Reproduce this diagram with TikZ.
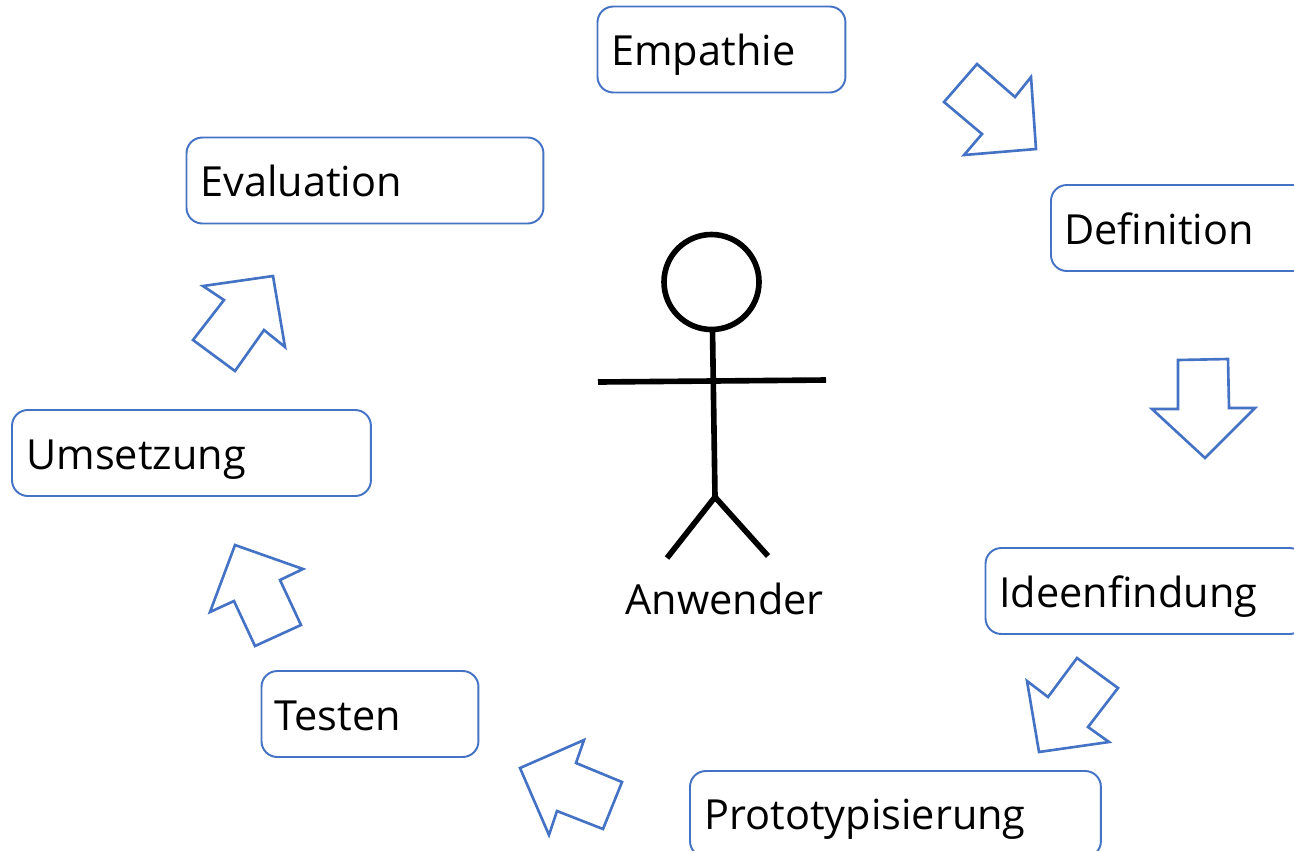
\documentclass[tikz,border=0pt]{standalone}
\usepackage{fontspec}
\setmainfont{Open Sans}
\tikzset{
  stepbox/.style={draw=boxblue, line width=1.1pt, rounded corners=9pt, fill=white, inner sep=0pt, outer sep=0pt, anchor=north west},
  steptext/.style={font=\fontsize{23.6}{28}\selectfont, text=black, inner sep=0pt, anchor=base west},
  flowarrow/.style={draw=boxblue, line width=1.5pt, fill=white, line join=miter},
  figureline/.style={draw=black, line width=3.2pt}
}
\definecolor{boxblue}{RGB}{68,114,196}
\begin{document}
\begin{tikzpicture}[x=0.02cm,y=-0.02cm]
    \useasboundingbox (0,0) rectangle (1294,850);

    % boxes
    \node [stepbox, minimum width=4.96cm, minimum height=1.72cm] (empathie) at (597.5,6.5) {};
    \node [stepbox, minimum width=7.14cm, minimum height=1.72cm] (evaluation) at (186.5,137.5) {};
    \node [stepbox, minimum width=5.2cm, minimum height=1.72cm] (definition) at (1051,185) {};
    \node [stepbox, minimum width=7.18cm, minimum height=1.72cm] (umsetzung) at (12,410) {};
    \node [stepbox, minimum width=6.4cm, minimum height=1.72cm] (ideen) at (985.5,548) {};
    \node [stepbox, minimum width=4.34cm, minimum height=1.72cm] (testen) at (261.5,671) {};
    \node [stepbox, minimum width=8.22cm, minimum height=1.72cm] (proto) at (690,771) {};

    % labels
    \node [steptext] (tempathie) at (611,65) {Empathie};
    \node [steptext] (tevaluation) at (200,196) {Evaluation};
    \node [steptext] (tdefinition) at (1064,244) {Definition};
    \node [steptext] (tumsetzung) at (26,469) {Umsetzung};
    \node [steptext] (tideen) at (999,607) {Ideenfindung};
    \node [steptext] (ttesten) at (274,730) {Testen};
    \node [steptext] (tproto) at (704,829) {Prototypisierung};
    \node [steptext] (tanwender) at (625,614) {Anwender};

    % arrows
    \draw [flowarrow] (977,64) -- (1015,97) -- (1031,77) -- (1036,149) -- (964,155) -- (982,134) -- (944,102) -- cycle;
    \draw [flowarrow] (1178,360) -- (1228,359) -- (1229,408) -- (1255,408) -- (1205,458) -- (1152,409) -- (1178,409) -- cycle;
    \draw [flowarrow] (1077,658) -- (1118,688) -- (1088,727) -- (1109,742) -- (1039,752) -- (1027,681) -- (1048,697) -- cycle;
    \draw [flowarrow] (622,782) -- (603,829) -- (557,811) -- (549,835) -- (520,768) -- (584,740) -- (576,763) -- cycle;
    \draw [flowarrow] (301,625) -- (255,646) -- (234,601) -- (210,612) -- (235,545) -- (303,569) -- (280,580) -- cycle;
    \draw [flowarrow] (235,371) -- (193,340) -- (224,300) -- (203,286) -- (273,276) -- (285,347) -- (264,330) -- cycle;

    % stick figure
    \draw [figureline] (711.5,282) circle (47.5);
    \draw [figureline] (712.5,330) -- (715,497);
    \draw [figureline] (598,382) -- (826,380);
    \draw [figureline] (667,558) -- (715,497) -- (768,556);
\end{tikzpicture}
\end{document}
